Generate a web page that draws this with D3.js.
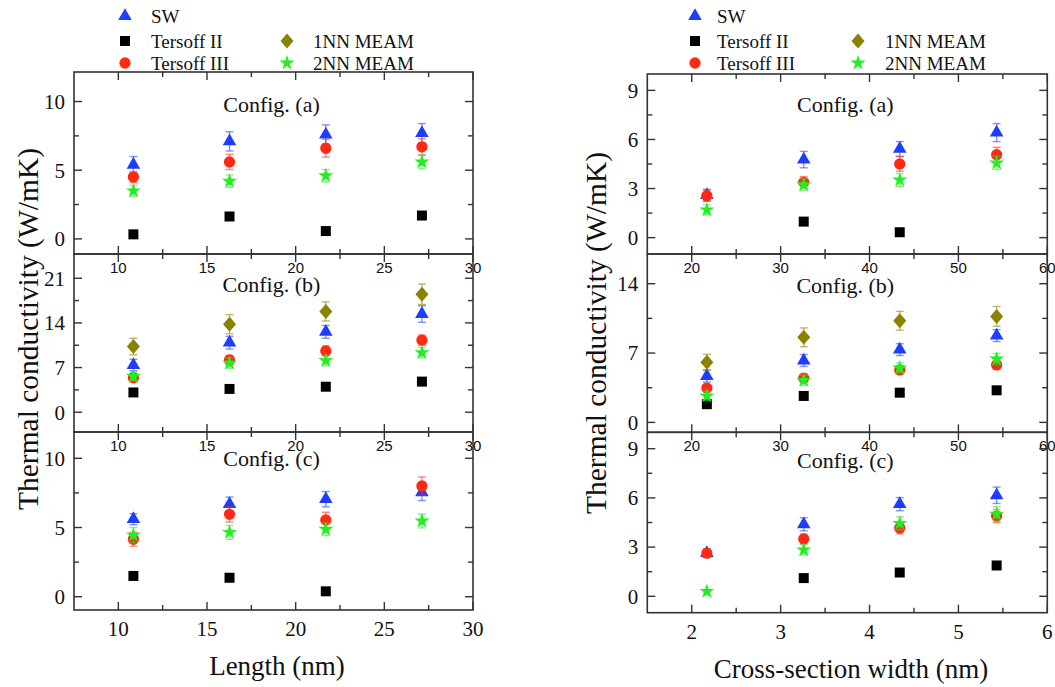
<!DOCTYPE html>
<html>
<head>
<meta charset="utf-8">
<script src="https://cdn.jsdelivr.net/npm/d3@7"></script>
<style>
  html, body { margin: 0; padding: 0; background: #fff; }
  svg { display: block; }
  .serif { font-family: "Liberation Serif", "Times New Roman", serif; fill: #111; }
  .sans { font-family: "Liberation Sans", Arial, sans-serif; fill: #111; }
</style>
</head>
<body>
<svg id="chart" width="1055" height="687"></svg>
<script>
// ---------------- DATA ----------------
const seriesNames = ["SW", "Tersoff II", "Tersoff III", "1NN MEAM", "2NN MEAM"];
const lengths = [10.85, 16.27, 21.7, 27.12];          // nm
const widths = [2.17, 3.26, 4.34, 5.43];              // nm
const lengthTicks = [10, 15, 20, 25, 30];
const widthTicks = [2, 3, 4, 5, 6];
const widthTopTicks = [20, 30, 40, 50, 60];
const configLabels = ["Config. (a)", "Config. (b)", "Config. (c)"];

// Length panels
const swLenA = [5.4, 7.1, 7.6, 7.7],       swLenAErr = [0.6, 0.7, 0.7, 0.7];
const t2LenA = [0.33, 1.63, 0.57, 1.7],    t2LenAErr = [0.1, 0.1, 0.1, 0.1];
const t3LenA = [4.5, 5.6, 6.6, 6.7],       t3LenAErr = [0.4, 0.55, 0.65, 0.6];
const m1LenA = [null, null, null, null],   m1LenAErr = [0, 0, 0, 0];
const m2LenA = [3.5, 4.2, 4.6, 5.6],       m2LenAErr = [0.4, 0.45, 0.45, 0.5];

const swLenB = [7.4, 10.9, 12.6, 15.4],    swLenBErr = [0.9, 1.0, 1.0, 1.3];
const t2LenB = [3.1, 3.65, 4.0, 4.8],      t2LenBErr = [0.2, 0.2, 0.2, 0.2];
const t3LenB = [5.4, 8.2, 9.6, 11.3],      t3LenBErr = [0.6, 0.7, 0.8, 0.8];
const m1LenB = [10.3, 13.8, 15.8, 18.5],   m1LenBErr = [1.3, 1.5, 1.5, 1.6];
const m2LenB = [5.6, 7.7, 8.1, 9.35],      m2LenBErr = [0.7, 0.8, 0.8, 0.8];

const swLenC = [5.6, 6.7, 7.05, 7.55],     swLenCErr = [0.4, 0.5, 0.55, 0.6];
const t2LenC = [1.5, 1.37, 0.39, null],    t2LenCErr = [0.25, 0.25, 0.1, 0];
const t3LenC = [4.15, 5.95, 5.55, 8.0],    t3LenCErr = [0.5, 0.55, 0.55, 0.65];
const m1LenC = [null, null, null, null],   m1LenCErr = [0, 0, 0, 0];
const m2LenC = [4.45, 4.65, 4.87, 5.47],   m2LenCErr = [0.55, 0.5, 0.45, 0.5];

// Width panels
const swWidA = [2.6, 4.77, 5.42, 6.42],    swWidAErr = [0.35, 0.5, 0.45, 0.55];
const t2WidA = [null, 0.98, 0.33, null],   t2WidAErr = [0, 0.05, 0.05, 0];
const t3WidA = [2.56, 3.38, 4.5, 5.07],    t3WidAErr = [0.35, 0.35, 0.45, 0.45];
const m1WidA = [null, null, null, null],   m1WidAErr = [0, 0, 0, 0];
const m2WidA = [1.7, 3.23, 3.52, 4.56],    m2WidAErr = [0.3, 0.35, 0.4, 0.4];

const swWidB = [4.67, 6.25, 7.35, 8.76],   swWidBErr = [0.6, 0.6, 0.6, 0.6];
const t2WidB = [1.84, 2.67, 3.0, 3.24],    t2WidBErr = [0.1, 0.1, 0.1, 0.1];
const t3WidB = [3.47, 4.47, 5.3, 5.8],     t3WidBErr = [0.35, 0.4, 0.4, 0.4];
const m1WidB = [6.08, 8.59, 10.26, 10.7],  m1WidBErr = [0.8, 0.95, 0.95, 1.0];
const m2WidB = [2.67, 4.24, 5.5, 6.4],     m2WidBErr = [0.45, 0.5, 0.5, 0.55];

const swWidC = [2.63, 4.39, 5.62, 6.16],   swWidCErr = [0.25, 0.4, 0.4, 0.5];
const t2WidC = [null, 1.11, 1.45, 1.88],   t2WidCErr = [0, 0.1, 0.1, 0.2];
const t3WidC = [2.63, 3.5, 4.16, 4.89],    t3WidCErr = [0.25, 0.3, 0.35, 0.4];
const m1WidC = [null, null, null, null],   m1WidCErr = [0, 0, 0, 0];
const m2WidC = [0.3, 2.83, 4.45, 5.01],    m2WidCErr = [0.1, 0.3, 0.4, 0.45];

// y ticks per panel
const lenYTicks = [[0, 5, 10], [0, 7, 14, 21], [0, 5, 10]];
const widYTicks = [[0, 3, 6, 9], [0, 7, 14], [0, 3, 6, 9]];

// ---------------- STYLE / LAYOUT ----------------
const colors = { "SW": "#1f3dff", "Tersoff II": "#000000", "Tersoff III": "#ff2a14",
                 "1NN MEAM": "#8a8200", "2NN MEAM": "#22ee22" };
const drawOrder = ["SW", "Tersoff II", "Tersoff III", "2NN MEAM", "1NN MEAM"];

const svg = d3.select("#chart");

function symbolPath(name) {
  if (name === "SW") return d3.symbol(d3.symbolTriangle, 80)();
  if (name === "Tersoff II") return d3.symbol(d3.symbolSquare, 100)();
  if (name === "Tersoff III") return d3.symbol(d3.symbolCircle, 100)();
  if (name === "2NN MEAM") return d3.symbol(d3.symbolStar, 70)();
  return "M0,-7.5L6.5,0L0,7.5L-6.5,0Z";
}

function buildPanel(cfg) {
  const x = d3.scaleLinear().domain(cfg.xDomain).range([cfg.x0, cfg.x1]);
  const y = d3.scaleLinear().domain(cfg.yDomain).range([cfg.y1, cfg.y0]);
  const g = svg.append("g");

  if (cfg.topLabels) {
    g.selectAll(".tl").data(cfg.topLabels).enter().append("text")
      .attr("class", "sans")
      .attr("x", (d, i) => x(cfg.xTicks[i]))
      .attr("y", cfg.y0 + 19)
      .attr("text-anchor", "middle")
      .attr("font-size", 15)
      .text(d => d);
  }

  const marks = g.append("g");
  drawOrder.forEach(name => {
    const vals = cfg.data[name][0], errs = cfg.data[name][1];
    const pts = cfg.xs.map((xv, i) => ({ x: xv, v: vals[i], e: errs[i] })).filter(p => p.v != null);
    const col = colors[name];
    const eb = marks.append("g").attr("stroke", col).attr("stroke-opacity", 0.55).attr("stroke-width", 1.4).attr("fill", "none");
    pts.forEach(p => {
      if (!p.e) return;
      const cx = x(p.x), yt = y(p.v + p.e), yb = y(p.v - p.e);
      eb.append("line").attr("x1", cx).attr("x2", cx).attr("y1", yt).attr("y2", yb);
      eb.append("line").attr("x1", cx - 4).attr("x2", cx + 4).attr("y1", yt).attr("y2", yt);
      eb.append("line").attr("x1", cx - 4).attr("x2", cx + 4).attr("y1", yb).attr("y2", yb);
    });
    marks.append("g").selectAll("path").data(pts).enter().append("path")
      .attr("d", symbolPath(name))
      .attr("transform", p => `translate(${x(p.x)},${y(p.v)})`)
      .attr("fill", col);
  });

  g.append("text").attr("class", "serif")
    .attr("x", (cfg.x0 + cfg.x1) / 2 - 2)
    .attr("y", cfg.y0 + cfg.labelDy)
    .attr("text-anchor", "middle")
    .attr("font-size", 22)
    .text(cfg.label);

  const tk = g.append("g").attr("stroke", "#333").attr("stroke-width", 1.4);
  const xMinor = [];
  for (let i = 0; i < cfg.xTicks.length - 1; i++) xMinor.push((cfg.xTicks[i] + cfg.xTicks[i + 1]) / 2);
  xMinor.unshift(cfg.xTicks[0] - (cfg.xTicks[1] - cfg.xTicks[0]) / 2);
  const xIn = v => v >= cfg.xDomain[0] && v <= cfg.xDomain[1];
  cfg.xTicks.filter(xIn).forEach(v => {
    tk.append("line").attr("x1", x(v)).attr("x2", x(v)).attr("y1", cfg.y1).attr("y2", cfg.y1 - 8);
    tk.append("line").attr("x1", x(v)).attr("x2", x(v)).attr("y1", cfg.y0).attr("y2", cfg.y0 + 8);
  });
  xMinor.filter(v => v > cfg.xDomain[0] + 0.01 && v < cfg.xDomain[1]).forEach(v => {
    tk.append("line").attr("x1", x(v)).attr("x2", x(v)).attr("y1", cfg.y1).attr("y2", cfg.y1 - 5);
    tk.append("line").attr("x1", x(v)).attr("x2", x(v)).attr("y1", cfg.y0).attr("y2", cfg.y0 + 5);
  });
  const step = cfg.yTicks[1] - cfg.yTicks[0];
  const yMinor = [];
  for (let v = cfg.yTicks[0] - step / 2; v <= cfg.yDomain[1]; v += step) yMinor.push(v);
  const yInside = v => y(v) > cfg.y0 + 3 && y(v) < cfg.y1 - 3;
  cfg.yTicks.filter(yInside).forEach(v => {
    tk.append("line").attr("x1", cfg.x0).attr("x2", cfg.x0 + 8).attr("y1", y(v)).attr("y2", y(v));
    tk.append("line").attr("x1", cfg.x1).attr("x2", cfg.x1 - 8).attr("y1", y(v)).attr("y2", y(v));
  });
  yMinor.filter(yInside).forEach(v => {
    tk.append("line").attr("x1", cfg.x0).attr("x2", cfg.x0 + 5).attr("y1", y(v)).attr("y2", y(v));
    tk.append("line").attr("x1", cfg.x1).attr("x2", cfg.x1 - 5).attr("y1", y(v)).attr("y2", y(v));
  });

  g.selectAll(".yl").data(cfg.yTicks).enter().append("text")
    .attr("class", "serif")
    .attr("x", cfg.x0 - 9)
    .attr("y", d => y(d))
    .attr("dy", "0.35em")
    .attr("text-anchor", "end")
    .attr("font-size", 21)
    .text(d => d);

  if (cfg.bottomLabels) {
    g.selectAll(".bl").data(cfg.bottomLabels).enter().append("text")
      .attr("class", "serif")
      .attr("x", (d, i) => x(cfg.xTicks[i]))
      .attr("y", cfg.y1 + 26)
      .attr("text-anchor", "middle")
      .attr("font-size", 21)
      .text(d => d);
  }

  g.append("rect").attr("x", cfg.x0).attr("y", cfg.y0)
    .attr("width", cfg.x1 - cfg.x0).attr("height", cfg.y1 - cfg.y0)
    .attr("fill", "none").attr("stroke", "#333").attr("stroke-width", 1.6);
}

const lenData = [
  { "SW": [swLenA, swLenAErr], "Tersoff II": [t2LenA, t2LenAErr], "Tersoff III": [t3LenA, t3LenAErr], "1NN MEAM": [m1LenA, m1LenAErr], "2NN MEAM": [m2LenA, m2LenAErr] },
  { "SW": [swLenB, swLenBErr], "Tersoff II": [t2LenB, t2LenBErr], "Tersoff III": [t3LenB, t3LenBErr], "1NN MEAM": [m1LenB, m1LenBErr], "2NN MEAM": [m2LenB, m2LenBErr] },
  { "SW": [swLenC, swLenCErr], "Tersoff II": [t2LenC, t2LenCErr], "Tersoff III": [t3LenC, t3LenCErr], "1NN MEAM": [m1LenC, m1LenCErr], "2NN MEAM": [m2LenC, m2LenCErr] }
];
const widData = [
  { "SW": [swWidA, swWidAErr], "Tersoff II": [t2WidA, t2WidAErr], "Tersoff III": [t3WidA, t3WidAErr], "1NN MEAM": [m1WidA, m1WidAErr], "2NN MEAM": [m2WidA, m2WidAErr] },
  { "SW": [swWidB, swWidBErr], "Tersoff II": [t2WidB, t2WidBErr], "Tersoff III": [t3WidB, t3WidBErr], "1NN MEAM": [m1WidB, m1WidBErr], "2NN MEAM": [m2WidB, m2WidBErr] },
  { "SW": [swWidC, swWidCErr], "Tersoff II": [t2WidC, t2WidCErr], "Tersoff III": [t3WidC, t3WidCErr], "1NN MEAM": [m1WidC, m1WidCErr], "2NN MEAM": [m2WidC, m2WidCErr] }
];

const lenY = [[72, 254], [254, 432], [432, 610]];
const lenDom = [[-1.1, 12.15], [-3.1, 24.8], [-0.96, 11.9]];
const widY = [[74, 254], [254, 432.3], [432.3, 612.7]];
const widDom = [[-1, 10], [-1, 17], [-1, 10]];
const lenLabelDy = [40, 38, 34];
const widLabelDy = [38, 39, 36];

[0, 1, 2].forEach(i => buildPanel({
  x0: 74, x1: 473, y0: lenY[i][0], y1: lenY[i][1],
  xDomain: [7.5, 30], yDomain: lenDom[i],
  xTicks: lengthTicks, yTicks: lenYTicks[i], xs: lengths,
  topLabels: i > 0 ? lengthTicks : null,
  bottomLabels: i === 2 ? lengthTicks : null,
  label: configLabels[i], labelDy: lenLabelDy[i], data: lenData[i]
}));
[0, 1, 2].forEach(i => buildPanel({
  x0: 647.3, x1: 1047.3, y0: widY[i][0], y1: widY[i][1],
  xDomain: [1.5, 6], yDomain: widDom[i],
  xTicks: widthTicks, yTicks: widYTicks[i], xs: widths,
  topLabels: i > 0 ? widthTopTicks : null,
  bottomLabels: i === 2 ? widthTicks : null,
  label: configLabels[i], labelDy: widLabelDy[i], data: widData[i]
}));

svg.append("text").attr("class", "serif")
  .attr("transform", "translate(38,329) rotate(-90)")
  .attr("text-anchor", "middle").attr("font-size", 29.5)
  .text("Thermal conductivity (W/mK)");
svg.append("text").attr("class", "serif")
  .attr("transform", "translate(606,333) rotate(-90)")
  .attr("text-anchor", "middle").attr("font-size", 29.5)
  .text("Thermal conductivity (W/mK)");
svg.append("text").attr("class", "serif")
  .attr("x", 277).attr("y", 675).attr("text-anchor", "middle").attr("font-size", 27)
  .text("Length (nm)");
svg.append("text").attr("class", "serif")
  .attr("x", 851).attr("y", 678).attr("text-anchor", "middle").attr("font-size", 27)
  .text("Cross-section width (nm)");

function legend(ox1, tx1, ox2, tx2) {
  const items = [
    { n: "SW", sx: ox1, tx: tx1, y: 16 },
    { n: "Tersoff II", sx: ox1, tx: tx1, y: 41 },
    { n: "Tersoff III", sx: ox1, tx: tx1, y: 63 },
    { n: "1NN MEAM", sx: ox2, tx: tx2, y: 41 },
    { n: "2NN MEAM", sx: ox2, tx: tx2, y: 63 }
  ];
  const lg = svg.append("g");
  items.forEach(it => {
    lg.append("path").attr("d", symbolPath(it.n))
      .attr("transform", `translate(${it.sx},${it.y})`)
      .attr("fill", colors[it.n]);
    lg.append("text").attr("class", "serif")
      .attr("x", it.tx).attr("y", it.y).attr("dy", "0.36em")
      .attr("font-size", 19).text(it.n);
  });
}
legend(125, 151, 287, 313);
legend(695, 717, 858, 885);
</script>
</body>
</html>
